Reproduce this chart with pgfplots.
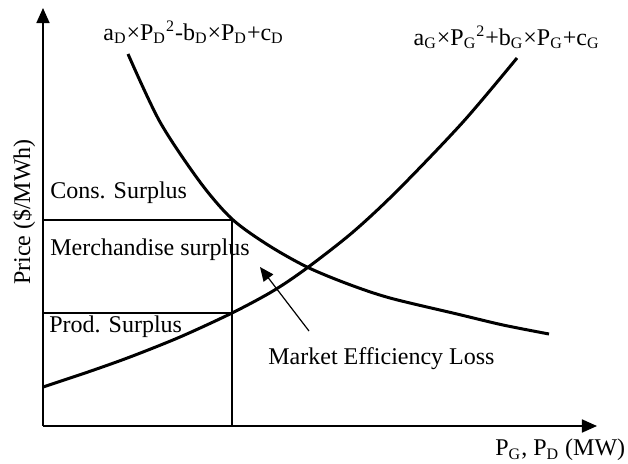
\documentclass[border=0pt]{standalone}
\usepackage{fontspec}
\setmainfont{Liberation Serif}
\usepackage{pgfplots}
\pgfplotsset{compat=1.18}
\usetikzlibrary{arrows.meta}

% curves (x = power, y = price, arbitrary units)
\pgfplotstableread{
x   y
0   39
45  54
87  69
137 89
189 113
230 135
264 158
310 194
355 236
420 304
474 368
}\supply
\pgfplotstableread{
x   y
85  372
117 304
157 244
189 207
225 181
264 159
305 142
347 128
414 112
460 101
506 92
}\demand

\newcommand{\sub}[1]{\textsubscript{#1}}

\begin{document}
\begin{tikzpicture}[font=\fontsize{12}{14}\selectfont]
  \begin{axis}[
    x=0.5pt,y=0.5pt,
    xmin=0,xmax=554,ymin=0,ymax=418,
    enlargelimits=false,
    axis x line=bottom,axis y line=left,
    axis line style={line width=0.85pt},
    every outer x axis line/.append style={-{Triangle[length=7.5pt,width=6.5pt]}},
    every outer y axis line/.append style={-{Triangle[length=7.5pt,width=6.5pt]}},
    xtick=\empty,ytick=\empty,
    clip=false]
    \path (axis cs:-43,-37) rectangle (axis cs:585,426);
    % surplus areas
    \addplot[black,line width=0.6pt] coordinates {(0,206) (189,206) (189,0)};
    \addplot[black,line width=0.6pt] coordinates {(0,113) (189,113)};
    % supply and demand curves
    \addplot[black,line width=1.5pt,smooth] table {\supply};
    \addplot[black,line width=1.5pt,smooth] table {\demand};
    % pointer to the efficiency loss
    \addplot[black,line width=0.6pt,-{Triangle[length=7pt,width=6pt]}]
      coordinates {(266,95) (217,159)};
    \node[anchor=base west,inner sep=0pt] at (axis cs:60,386)
      {a\sub{D}×P\sub{D}\textsuperscript{2}-b\sub{D}×P\sub{D}+c\sub{D}};
    \node[anchor=base east,inner sep=0pt] at (axis cs:557,381)
      {a\sub{G}×P\sub{G}\textsuperscript{2}+b\sub{G}×P\sub{G}+c\sub{G}};
    \node[anchor=west,inner sep=0pt] at (axis cs:7,233) {Cons. Surplus};
    \node[anchor=west,inner sep=0pt] at (axis cs:7,176) {Merchandise surplus};
    \node[anchor=west,inner sep=0pt] at (axis cs:6,99) {Prod. Surplus};
    \node[anchor=west,inner sep=0pt] at (axis cs:225,67) {Market Efficiency Loss};
    \node[anchor=west,inner sep=0pt] at (axis cs:452,-24) {P\sub{G}, P\sub{D} (MW)};
    \node[rotate=90,inner sep=0pt] at (axis cs:-19,214) {Price (\$/MWh)};
  \end{axis}
\end{tikzpicture}
\end{document}
